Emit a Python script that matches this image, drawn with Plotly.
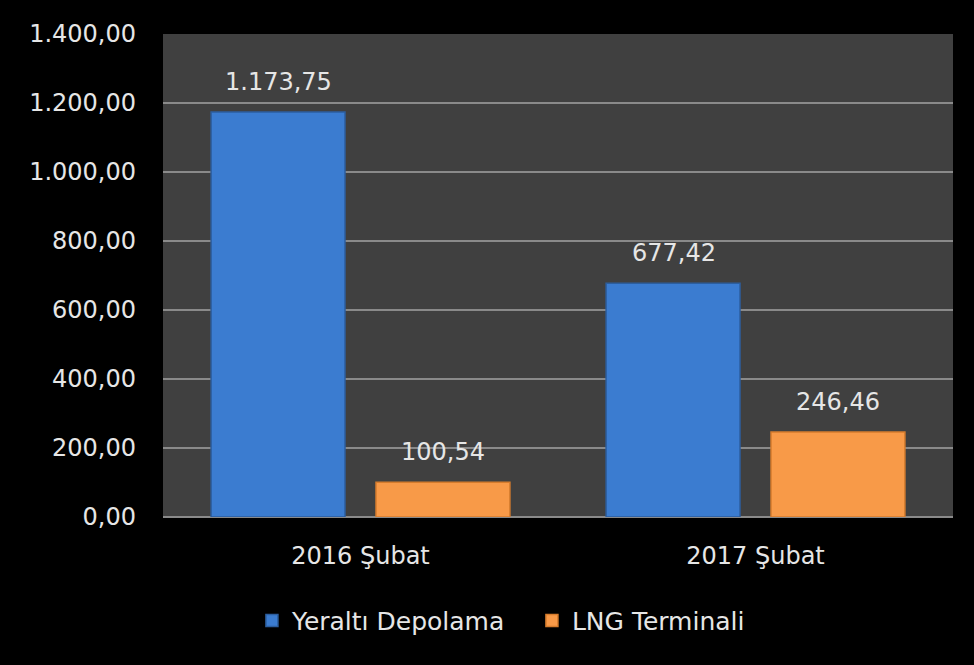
import plotly.graph_objects as go

categories = ["2016 Şubat", "2017 Şubat"]
yeralti = [1173.75, 677.42]
lng = [100.54, 246.46]
series_names = ["Yeraltı Depolama", "LNG Terminali"]
tick_vals = [0, 200, 400, 600, 800, 1000, 1200, 1400]

FONT = "DejaVu Sans"
TXT = "#e6e6e6"

fig = go.Figure()
fig.add_trace(go.Bar(
    name=series_names[0], x=categories, y=yeralti,
    marker=dict(color="#3b7cd0", line=dict(color="#2c5e9e", width=1.5)),
))
fig.add_trace(go.Bar(
    name=series_names[1], x=categories, y=lng,
    marker=dict(color="#f89a48", line=dict(color="#d67c2c", width=1.5)),
))

def fmt(v):
    s = f"{v:,.2f}"
    return s.replace(",", "X").replace(".", ",").replace("X", ".")

# data labels above bars
for vals, shift in ((yeralti, -82), (lng, 82)):
    for c, v in zip(categories, vals):
        fig.add_annotation(x=c, y=v, xref="x", yref="y", text=fmt(v),
                           showarrow=False, xshift=shift, yshift=30,
                           yanchor="middle",
                           font=dict(family=FONT, size=24, color=TXT))

fig.update_layout(
    width=974, height=665,
    paper_bgcolor="black", plot_bgcolor="#404040",
    margin=dict(l=163, r=21, t=34, b=148),
    separators=",.",
    barmode="group", bargap=0.165, bargroupgap=0.188,
    font=dict(family=FONT, size=24, color=TXT),
    showlegend=True,
    legend=dict(orientation="h", x=0.467, xanchor="center", y=-0.215,
                yanchor="middle", font=dict(family=FONT, size=25, color=TXT),
                bgcolor="rgba(0,0,0,0)", itemwidth=30,
                entrywidth=235, entrywidthmode="pixels"),
    xaxis=dict(showgrid=False, ticks="", ticklabelstandoff=22,
               tickfont=dict(family=FONT, size=24, color=TXT)),
    yaxis=dict(range=[0, 1400], tickvals=tick_vals, tickformat=",.2f",
               showgrid=True, gridcolor="#8a8a8a", gridwidth=2,
               zeroline=True, zerolinecolor="#8a8a8a", zerolinewidth=2,
               ticks="", ticklabelstandoff=26,
               tickfont=dict(family=FONT, size=24, color=TXT)),
)

fig.write_html("out.html", config={"displayModeBar": False},
               post_script="document.body.style.margin='0';document.body.style.background='black';")
